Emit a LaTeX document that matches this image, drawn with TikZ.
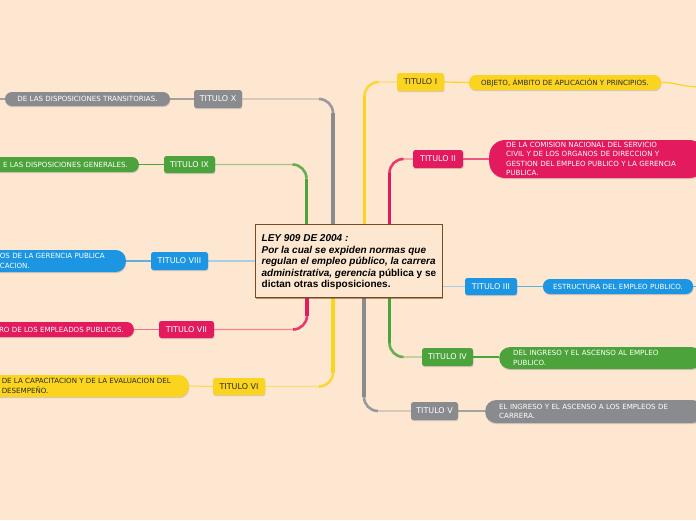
\documentclass[tikz,border=0pt]{standalone}
\usepackage{fontspec}
\setmainfont{DejaVu Sans}
\newfontfamily\arialf{Liberation Sans}
\usetikzlibrary{calc,shadows,backgrounds}
\definecolor{bgc}{HTML}{FDE7D1}
\definecolor{cy}{HTML}{FAD41E}
\definecolor{cp}{HTML}{E41A5E}
\definecolor{cb}{HTML}{1C96E2}
\definecolor{cg}{HTML}{4CA33C}
\definecolor{cgr}{HTML}{8A8B8F}
\definecolor{lb}{HTML}{A8CEE6}
\definecolor{brn}{HTML}{7A4A20}
\definecolor{txd}{HTML}{2B2B2B}
\tikzset{
  shd/.style={drop shadow={opacity=0.3,shadow xshift=0.4pt,shadow yshift=-1.2pt}},
  tit/.style={rounded corners=2.5pt, font=\fontsize{8}{9}\selectfont, text=white, inner sep=0pt, shd},
  pill/.style={rounded corners=7pt, font=\fontsize{7.1}{9.2}\selectfont, text=white, inner ysep=0pt, shd},
  lk/.style={line width=1.2pt},
  cbox/.style={draw=brn, line width=0.8pt, fill=bgc, font=\arialf\bfseries\fontsize{10}{11.5}\selectfont, text=black,
    drop shadow={opacity=0.55,shadow xshift=0.9pt,shadow yshift=-0.9pt,fill=brn}},
}
\newcommand\mybranch[5]{%
  \draw[line width=1.3pt,#1!50!bgc,rounded corners=14pt] (#2) |- (#3);
  \draw[line width=3.8pt,#1] (#2) -- ([yshift=#4pt]#2 |- #3);
  \draw[line width=2.6pt,#1!85!bgc,rounded corners=14pt] ([yshift=#4pt]#2 |- #3) |- ([xshift=#5pt]#2 |- #3);
}
\begin{document}
\begin{tikzpicture}[x=1pt,y=-1pt]
\useasboundingbox (0,0) rectangle (696,520);
\begin{pgfonlayer}{background}
\fill[bgc] (0,0) rectangle (696,520);
\end{pgfonlayer}
\clip (0,0) rectangle (696,520);

% central node
\node[cbox, anchor=north west, minimum width=187pt, inner xsep=6pt, inner ysep=0pt, align=left] (c) at (255,224)
 {\rule{0pt}{17.5pt}{\itshape LEY 909 DE 2004 :}\\{\itshape Por la cual se expiden normas que}\\{\itshape regulan el empleo público, la carrera}\\{\itshape administrativa, gerencia} pública y se\\dictan otras disposiciones.\rule[-9.8pt]{0pt}{0pt}};

\coordinate (u9) at ([xshift=51.5pt]c.north west);
\coordinate (u10) at ([xshift=78pt]c.north west);
\coordinate (u1) at ([xshift=109.5pt]c.north west);
\coordinate (u2) at ([xshift=134.5pt]c.north west);
\coordinate (d7) at ([xshift=52pt]c.south west);
\coordinate (d6) at ([xshift=78pt]c.south west);
\coordinate (d5) at ([xshift=109pt]c.south west);
\coordinate (d4) at ([xshift=134.5pt]c.south west);

% title nodes
\node[tit, fill=cgr, minimum width=48pt, minimum height=18pt] (t10) at (218,99) {TITULO X};
\node[tit, fill=cg, minimum width=51pt, minimum height=17pt] (t9) at (189.5,164.5) {TITULO IX};
\node[tit, fill=cb, minimum width=57pt, minimum height=18pt] (t8) at (179.5,261) {TITULO VIII};
\node[tit, fill=cp, minimum width=55pt, minimum height=17pt] (t7) at (186.5,329.5) {TITULO VII};
\node[tit, fill=cy, text=txd, minimum width=52pt, minimum height=17pt] (t6) at (239,386.5) {TITULO VI};
\node[tit, fill=cy, text=txd, minimum width=47pt, minimum height=18pt] (t1) at (420.5,82) {TITULO I};
\node[tit, fill=cp, minimum width=50pt, minimum height=18pt] (t2) at (438,159) {TITULO II};
\node[tit, fill=cb, minimum width=52pt, minimum height=17pt] (t3) at (491,286.5) {TITULO III};
\node[tit, fill=cg, minimum width=51pt, minimum height=18pt] (t4) at (447.5,357) {TITULO IV};
\node[tit, fill=cgr, minimum width=47pt, minimum height=18pt] (t5) at (434.5,411) {TITULO V};

% pills
\node[pill, fill=cgr, minimum width=165pt, minimum height=14pt] (p10) at (87.5,99) {DE LAS DISPOSICIONES TRANSITORIAS.};
\node[pill, fill=cg, minimum height=15pt, inner xsep=11pt, anchor=east] (p9) at (139,164.5) {E LAS DISPOSICIONES GENERALES.};
\node[pill, fill=cb, rounded corners=10pt, minimum height=22pt, inner xsep=21pt, align=left, anchor=east] (p8) at (126,261) {OS DE LA GERENCIA PUBLICA\\CACION.};
\node[pill, fill=cp, minimum height=15pt, inner xsep=10pt, anchor=east] (p7) at (134,329.5) {RO DE LOS EMPLEADOS PUBLICOS.};
\node[pill, fill=cy, text=txd, rounded corners=10pt, minimum height=22pt, inner xsep=18pt, align=left, anchor=east] (p6) at (189,386) {DE LA CAPACITACION Y DE LA EVALUACION DEL\\DESEMPEÑO.};
\node[pill, fill=cy, text=txd, minimum width=192pt, minimum height=15pt] (p1) at (565,82.5) {OBJETO, ÁMBITO DE APLICACIÓN Y PRINCIPIOS.};
\node[pill, fill=cp, rounded corners=16pt, minimum height=38pt, inner xsep=17pt, text width=182pt, align=left, anchor=west] (p2) at (489,159) {DE LA COMISION NACIONAL DEL SERVICIO\\CIVIL Y DE LOS ORGANOS DE DIRECCION Y\\GESTION DEL EMPLEO PUBLICO Y LA GERENCIA\\PUBLICA.};
\node[pill, fill=cb, minimum width=150pt, minimum height=15pt] (p3) at (618,286.5) {ESTRUCTURA DEL EMPLEO PUBLICO.};
\node[pill, fill=cg, rounded corners=11pt, minimum height=22pt, inner xsep=14pt, text width=175pt, align=left, anchor=west] (p4) at (499,358) {DEL INGRESO Y EL ASCENSO AL EMPLEO\\PUBLICO.};
\node[pill, fill=cgr, rounded corners=11pt, minimum height=23pt, inner xsep=14pt, text width=190pt, align=left, anchor=west] (p5) at (485,411.5) {EL INGRESO Y EL ASCENSO A LOS EMPLEOS DE\\CARRERA.};

\coordinate (e10) at (-6,99);
\coordinate (e1) at (702,87);
\coordinate (e3) at (702,286.5);

% connectors (behind nodes)
\begin{pgfonlayer}{background}
\mybranch{cgr}{u10}{t10.east}{-14}{-14}
\mybranch{cg}{u9}{t9.east}{-14}{-14}
\mybranch{cy}{u1}{t1.west}{-14}{14}
\mybranch{cp}{u2}{t2.west}{-14}{14}
\mybranch{cp}{d7}{t7.east}{14}{-14}
\mybranch{cy}{d6}{t6.east}{14}{-14}
\mybranch{cgr}{d5}{t5.west}{14}{14}
\mybranch{cg}{d4}{t4.west}{14}{14}
\draw[line width=1.6pt, lb] (t8.east) -- (t8.east -| c.west);
\draw[line width=1.6pt, lb] (t3.west) -- (t3.west -| c.east);
\draw[lk, cgr!75!bgc] (t10.west) -- (p10.east);
\draw[lk, cgr!75!bgc] (p10.west) -- (e10);
\draw[lk, cg] (t9.west) -- (p9.east);
\draw[lk, cb!70!bgc] (t8.west) -- (p8.east);
\draw[lk, cp!60!bgc] (t7.west) -- (p7.east);
\draw[lk, cy!70!bgc] (t6.west) -- (p6.east);
\draw[lk, cy] (t1.east) -- (p1.west);
\draw[lk, cy] (p1.east) .. controls (676,82) and (680,87) .. (e1);
\draw[lk, cp!70!bgc] (t2.east) -- (p2.west);
\draw[lk, cb!70!bgc] (t3.east) -- (p3.west);
\draw[lk, cb!70!bgc] (p3.east) -- (e3);
\draw[lk, cg] (t4.east) -- (p4.west |- t4.east);
\draw[lk, cgr!75!bgc] (t5.east) -- (p5.west |- t5.east);
\end{pgfonlayer}
\end{tikzpicture}
\end{document}
